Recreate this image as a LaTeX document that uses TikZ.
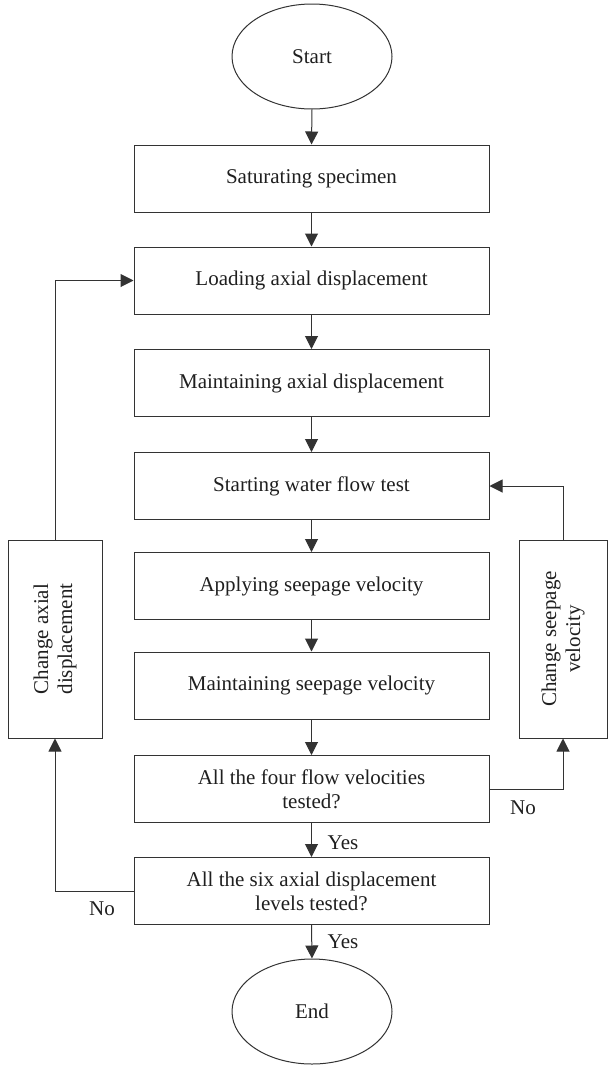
\documentclass[tikz,border=0pt]{standalone}
\usepackage{fontspec}
\setmainfont{Liberation Serif}
\usetikzlibrary{arrows.meta,shapes.geometric}
\begin{document}
\begin{tikzpicture}[x=1pt,y=-1pt,
 every node/.style={font=\fontsize{21}{24}\selectfont, text=black!88},
 proc/.style={draw=black!80, minimum width=355pt, minimum height=67pt, align=center, inner sep=0pt},
 term/.style={draw=black!80, ellipse, minimum width=160pt, minimum height=105pt, inner sep=0pt},
 side/.style={draw=black!80, minimum width=198pt, rotate=90, align=center, inner sep=0pt},
 lbl/.style={inner sep=0pt},
 arr/.style={draw=black!80, -{Triangle[width=13pt,length=13pt]}},
 line width=1pt]
\useasboundingbox (0,0) rectangle (608,1066);
\node[term] (start) at (312,56.5) {Start};
\node[proc] (b1) at (311.5,178.5) {Saturating specimen};
\node[proc] (b2) at (311.5,280.5) {Loading axial displacement};
\node[proc] (b3) at (311.5,383) {Maintaining axial displacement};
\node[proc] (b4) at (311.5,486) {Starting water flow test};
\node[proc] (b5) at (311.5,586) {Applying seepage velocity};
\node[proc] (b6) at (311.5,685.5) {Maintaining seepage velocity};
\node[proc] (b7) at (311.5,789) {All the four flow velocities\\tested?};
\node[proc] (b8) at (311.5,891) {All the six axial displacement\\levels tested?};
\node[term] (end) at (312,1011.5) {End};
\node[side, minimum height=94pt] (lb) at (55,639) {Change axial\\displacement};
\node[side, minimum height=88pt] (rb) at (563,639) {Change seepage\\velocity};
\draw[arr] (start.south) -- (b1.north);
\draw[arr] (b1.south) -- (b2.north);
\draw[arr] (b2.south) -- (b3.north);
\draw[arr] (b3.south) -- (b4.north);
\draw[arr] (b4.south) -- (b5.north);
\draw[arr] (b5.south) -- (b6.north);
\draw[arr] (b6.south) -- (b7.north);
\draw[arr] (b7.south) -- (b8.north);
\draw[arr] (b8.south) -- (end.north);
\draw[arr] (b7.east) -| (rb.west);
\draw[arr] (rb.east) |- (b4.east);
\draw[arr] (b8.west) -| (lb.west);
\draw[arr] (lb.east) |- (b2.west);
\node[lbl] (y1) at (343,843) {Yes};
\node[lbl] (y2) at (343,942) {Yes};
\node[lbl] (n1) at (523,808) {No};
\node[lbl] (n2) at (102,909) {No};
\end{tikzpicture}
\end{document}
